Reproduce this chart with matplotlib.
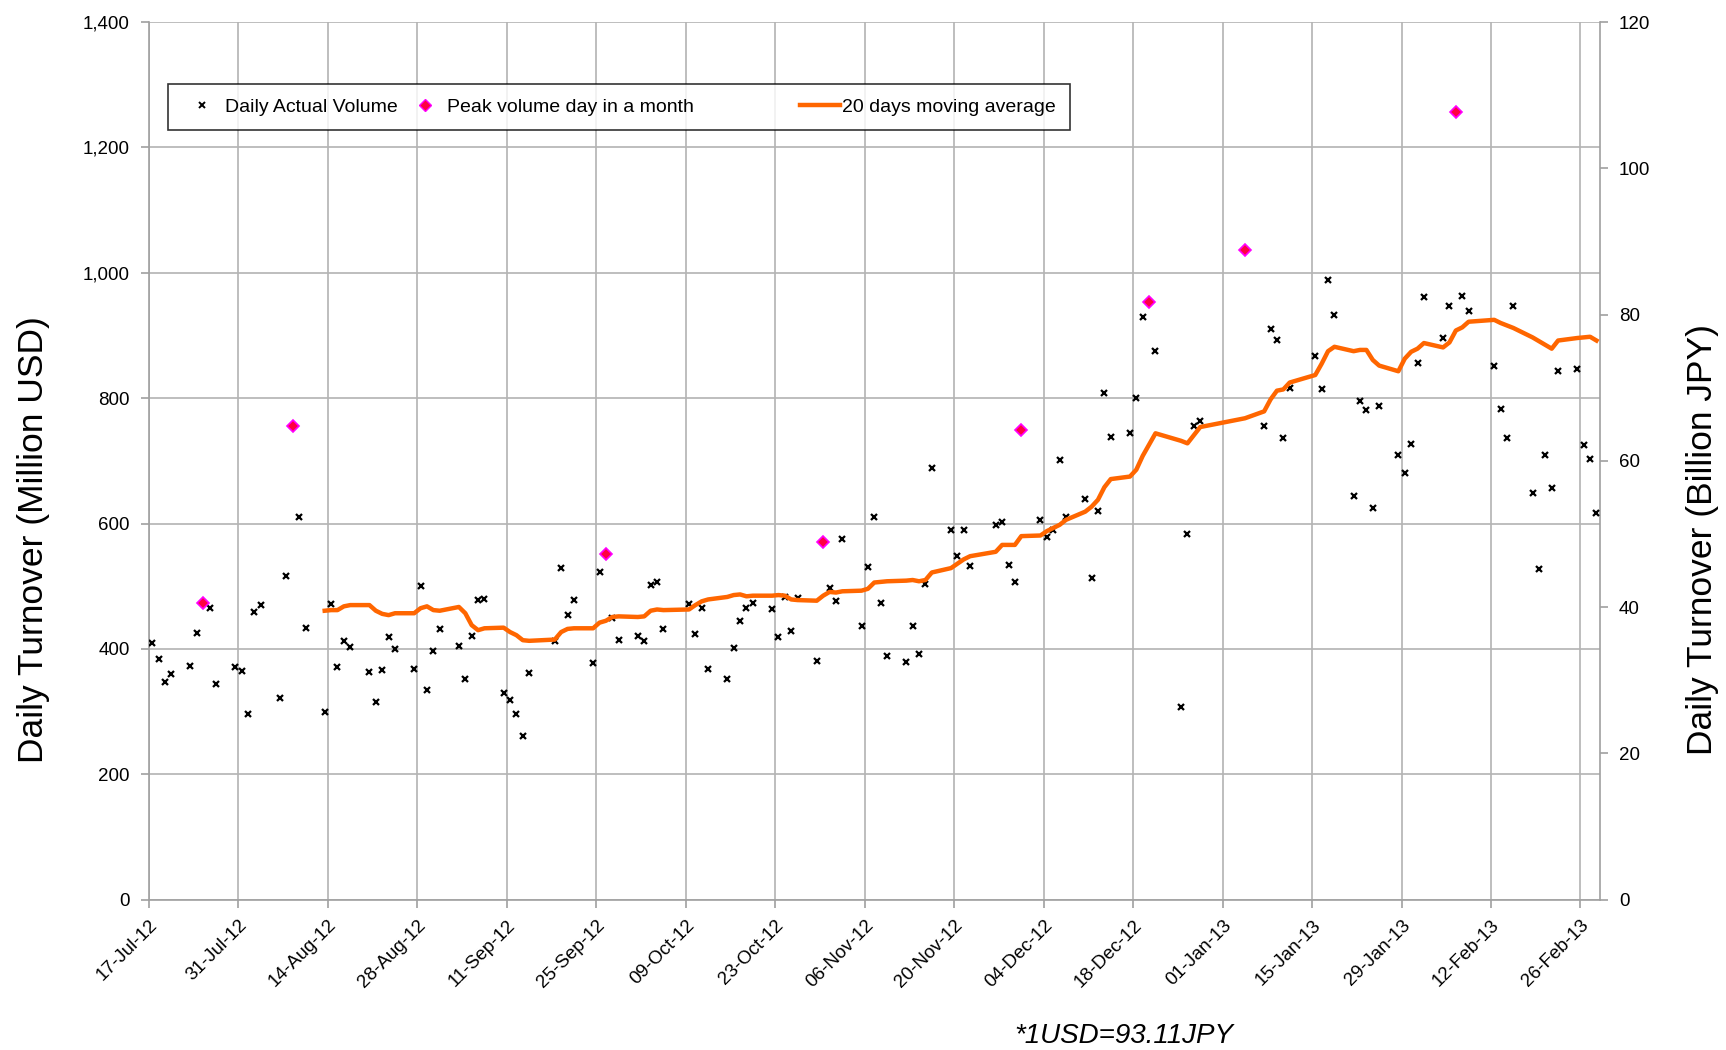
import datetime as dt
import matplotlib
matplotlib.use("Agg")
import matplotlib.pyplot as plt
import matplotlib.dates as mdates
from matplotlib.ticker import FuncFormatter, MultipleLocator
from matplotlib.lines import Line2D

plt.rcParams['font.family'] = ['Liberation Sans', 'DejaVu Sans']

# trading days (Japanese market) and daily turnover, million USD
dates = [
    "2012-07-17", "2012-07-18", "2012-07-19", "2012-07-20", "2012-07-23", "2012-07-24", "2012-07-25",
    "2012-07-26", "2012-07-27", "2012-07-30", "2012-07-31",
    "2012-08-01", "2012-08-02", "2012-08-03", "2012-08-06", "2012-08-07", "2012-08-08", "2012-08-09",
    "2012-08-10", "2012-08-13", "2012-08-14", "2012-08-15", "2012-08-16", "2012-08-17", "2012-08-20",
    "2012-08-21", "2012-08-22", "2012-08-23", "2012-08-24", "2012-08-27", "2012-08-28", "2012-08-29",
    "2012-08-30", "2012-08-31",
    "2012-09-03", "2012-09-04", "2012-09-05", "2012-09-06", "2012-09-07", "2012-09-10", "2012-09-11",
    "2012-09-12", "2012-09-13", "2012-09-14", "2012-09-18", "2012-09-19", "2012-09-20", "2012-09-21",
    "2012-09-24", "2012-09-25", "2012-09-26", "2012-09-27", "2012-09-28",
    "2012-10-01", "2012-10-02", "2012-10-03", "2012-10-04", "2012-10-05", "2012-10-09", "2012-10-10",
    "2012-10-11", "2012-10-12", "2012-10-15", "2012-10-16", "2012-10-17", "2012-10-18", "2012-10-19",
    "2012-10-22", "2012-10-23", "2012-10-24", "2012-10-25", "2012-10-26", "2012-10-29", "2012-10-30",
    "2012-10-31",
    "2012-11-01", "2012-11-02", "2012-11-05", "2012-11-06", "2012-11-07", "2012-11-08", "2012-11-09",
    "2012-11-12", "2012-11-13", "2012-11-14", "2012-11-15", "2012-11-16", "2012-11-19", "2012-11-20",
    "2012-11-21", "2012-11-22", "2012-11-26", "2012-11-27", "2012-11-28", "2012-11-29", "2012-11-30",
    "2012-12-03", "2012-12-04", "2012-12-05", "2012-12-06", "2012-12-07", "2012-12-10", "2012-12-11",
    "2012-12-12", "2012-12-13", "2012-12-14", "2012-12-17", "2012-12-18", "2012-12-19", "2012-12-20",
    "2012-12-21", "2012-12-25", "2012-12-26", "2012-12-27", "2012-12-28",
    "2013-01-04", "2013-01-07", "2013-01-08", "2013-01-09", "2013-01-10", "2013-01-11", "2013-01-15",
    "2013-01-16", "2013-01-17", "2013-01-18", "2013-01-21", "2013-01-22", "2013-01-23", "2013-01-24",
    "2013-01-25", "2013-01-28", "2013-01-29", "2013-01-30", "2013-01-31",
    "2013-02-01", "2013-02-04", "2013-02-05", "2013-02-06", "2013-02-07", "2013-02-08", "2013-02-12",
    "2013-02-13", "2013-02-14", "2013-02-15", "2013-02-18", "2013-02-19", "2013-02-20", "2013-02-21",
    "2013-02-22", "2013-02-25", "2013-02-26", "2013-02-27", "2013-02-28",
]
volume = [
    410, 384, 348, 360, 373, 425, 473, 466, 344, 371, 365,
    296, 459, 470, 322, 516, 756, 610, 434, 300, 471, 371, 413, 403, 363, 316, 366, 419, 400, 368,
    501, 334, 397, 432,
    404, 352, 421, 478, 480, 329, 318, 297, 261, 361, 413, 529, 454, 478, 378, 523, 551, 449, 415,
    421, 412, 502, 507, 432, 471, 424, 465, 368, 352, 401, 445, 465, 474, 464, 419, 483, 428, 481,
    381, 570, 498,
    477, 576, 437, 530, 611, 473, 388, 380, 436, 392, 503, 688, 590, 549, 590, 533, 598, 603, 534,
    507, 749,
    606, 579, 590, 702, 611, 639, 514, 620, 808, 738, 744, 800, 930, 954, 875, 307, 583, 755, 764,
    1037, 756, 911, 893, 736, 817, 868, 815, 988, 932, 644, 795, 781, 625, 788, 710, 681, 727, 856,
    962, 896, 947, 1257, 963, 939, 852, 783, 737, 947, 648, 528, 709, 656, 843, 847, 726, 703, 617,
]
peak_dates = ["2012-07-25", "2012-08-08", "2012-09-26", "2012-10-30",
              "2012-11-30", "2012-12-20", "2013-01-04", "2013-02-06"]

# 20 days moving average, from 13-Aug-12 on
ma_start = "2012-08-13"
ma_values = [
    461, 462, 462, 468, 470, 470, 461, 456, 454, 457, 457, 465, 468, 462, 461,
    467, 457, 438, 430, 433, 434, 427, 422, 414, 413, 415, 427, 432, 433, 433, 442, 445, 451, 452,
    451, 452, 461, 463, 462, 463, 470, 476, 479, 483, 486, 487, 484, 485, 485, 486, 485, 479, 478,
    477, 485, 491,
    490, 492, 493, 496, 506, 507, 508, 509, 510, 508, 510, 522, 529, 536, 543, 548, 555, 566, 566,
    566, 580,
    581, 588, 593, 598, 606, 619, 627, 638, 658, 671, 675, 686, 708, 726, 744, 732, 728, 741, 754,
    768, 779, 798, 812, 814, 825, 837, 855, 875, 882, 875, 877, 877, 861, 852, 843, 863, 874, 879,
    888, 881, 889, 908, 913, 922, 925, 920, 916, 912, 897, 891, 885, 879, 892, 896, 897, 898, 892,
]

tick_start = "2012-07-17"
x_end = "2013-03-01"
usd_jpy = "*1USD=93.11JPY"

# each day's mark sits in the middle of its day
days = [dt.datetime.strptime(d, "%Y-%m-%d") + dt.timedelta(hours=12) for d in dates]
vol_by_day = dict(zip(dates, volume))
peak_x = [dt.datetime.strptime(d, "%Y-%m-%d") + dt.timedelta(hours=12) for d in peak_dates]
peak_y = [vol_by_day[d] for d in peak_dates]
i0 = dates.index(ma_start)
ma_x = days[i0:i0 + len(ma_values)]

fig = plt.figure(figsize=(17.26, 10.5), dpi=100)
ax = fig.add_axes([0.0863, 0.1431, 0.8405, 0.8359])

ax.plot(days, volume, linestyle='none', marker='x', color='black',
        markersize=4, markeredgewidth=1.6, zorder=3)
ax.plot(ma_x, ma_values, color='#ff6600', linewidth=3.2, zorder=4)
ax.plot(peak_x, peak_y, linestyle='none', marker='D', markersize=6,
        markerfacecolor='#ff0040', markeredgecolor='#ff00ff', markeredgewidth=1.2, zorder=5)

ax.set_xlim(dt.datetime.strptime(tick_start, "%Y-%m-%d"), dt.datetime.strptime(x_end, "%Y-%m-%d"))
ax.set_ylim(0, 1400)
ax.yaxis.set_major_locator(MultipleLocator(200))
ax.yaxis.set_major_formatter(FuncFormatter(lambda v, p: f"{int(v):,}"))
t0 = dt.datetime.strptime(tick_start, "%Y-%m-%d")
ax.set_xticks([t0 + dt.timedelta(days=14 * k) for k in range(17)])
ax.xaxis.set_major_formatter(mdates.DateFormatter('%d-%b-%y'))
for lab in ax.get_xticklabels():
    lab.set_rotation(45)
    lab.set_ha('right')
    lab.set_rotation_mode('anchor')

ax.grid(True, color='#b3b3b3', linewidth=1.2, zorder=0)
ax.set_axisbelow(True)
for s in ax.spines.values():
    s.set_color('#a0a0a0')
    s.set_linewidth(1.2)
ax.spines['top'].set_visible(False)
ax.tick_params(axis='both', labelsize=13.5, color='#a0a0a0', length=6, width=1.2)
ax.tick_params(axis='y', pad=8)
ax.tick_params(axis='x', pad=6)
ax.set_ylabel("Daily Turnover (Million USD)", fontsize=25.5)
ax.yaxis.set_label_coords(-0.0682, 0.41)

ax2 = ax.twinx()
ax2.set_ylim(0, 120)
ax2.yaxis.set_major_locator(MultipleLocator(20))
ax2.tick_params(axis='y', labelsize=13.5, color='#a0a0a0', length=6, width=1.2, pad=8)
for s in ax2.spines.values():
    s.set_visible(False)
ax2.set_ylabel("Daily Turnover (Billion JPY)", fontsize=25.5)
ax2.yaxis.set_label_coords(1.0595, 0.41)

# blank 3rd entry only widens the gap before the moving-average entry
handles = [
    Line2D([], [], linestyle='none', marker='x', color='black', markersize=4, markeredgewidth=1.4),
    Line2D([], [], linestyle='none', marker='D', markersize=6, markerfacecolor='#ff0040',
           markeredgecolor='#ff00ff'),
    Line2D([], [], linestyle='none'),
    Line2D([], [], color='#ff6600', linewidth=3.2),
]
labels = ["Daily Actual Volume", "Peak volume day in a month", "MMM", "20 days moving average"]
leg = ax.legend(handles, labels, ncol=4, loc='upper left',
                bbox_to_anchor=(0.0131, 0.9294), borderaxespad=0, fontsize=14,
                frameon=True, fancybox=False, borderpad=0.72, handlelength=2.1,
                handletextpad=0.1, columnspacing=0.36)
leg.get_texts()[2].set_color('none')
leg.get_frame().set_edgecolor('black')
leg.get_frame().set_linewidth(1.2)

fig.text(0.651, 0.0133, usd_jpy, fontsize=20, style='italic', ha='center', va='center')

fig.savefig("out.png", dpi=100)
